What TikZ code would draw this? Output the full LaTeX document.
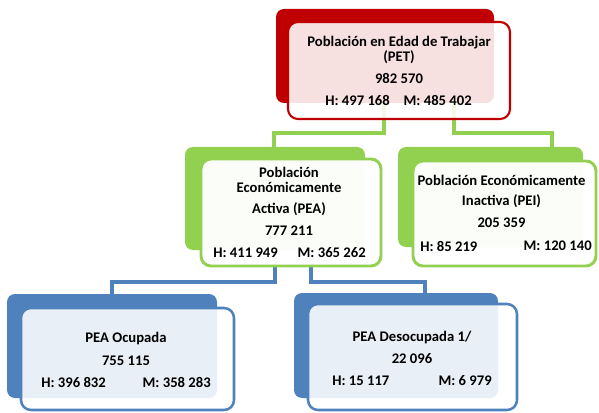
\documentclass[tikz,border=0pt]{standalone}
\usepackage{fontspec}
\setmainfont{Carlito}
\definecolor{petred}{HTML}{C00000}
\definecolor{peagreen}{HTML}{92D050}
\definecolor{peablue}{HTML}{4F81BD}
\tikzset{
  backbox/.style={fill=#1, rounded corners=6pt, inner sep=0pt},
  frontbox/.style={draw=#1, line width=1.9pt, fill=white, fill opacity=0.88, rounded corners=7.5pt, inner sep=0pt},
  lbl/.style={font=\fontsize{11}{11.25}\selectfont\bfseries, inner sep=0pt, align=center},
  conn/.style={draw=#1, line width=3pt},
}
\begin{document}
\begin{tikzpicture}[x=0.75pt,y=-0.75pt]
\useasboundingbox (0,0) rectangle (599,413);
% connectors
\coordinate (g1) at (384,103);
\coordinate (g2) at (454,103);
\coordinate (b1) at (275,250);
\coordinate (b2) at (311,250);
\draw[conn=peagreen] (g1) |- (274,133) -- (274,147);
\draw[conn=peagreen] (g2) |- (552,133) -- (552,147);
\draw[conn=peablue] (b1) |- (112,282) -- (112,294);
\draw[conn=peablue] (b2) |- (425,282) -- (425,293);
% PET
\node[backbox=petred, minimum width=163.5pt, minimum height=70.5pt] (petback) at (385,56) {};
\node[frontbox=petred, line width=1.6pt, minimum width=166.5pt, minimum height=72.75pt] (pet) at (399,70.5) {};
\node[lbl] (pettitle) at (399,49.5) {Población en Edad de Trabajar\\(PET)};
\node[lbl] (pettotal) at (399,78) {982 570};
\node[lbl, anchor=west] (peth) at (325,100) {H: 497 168};
\node[lbl, anchor=east] (petm) at (472,100) {M: 485 402};
% PEA
\node[backbox=peagreen, minimum width=135pt, minimum height=77.25pt] (peaback) at (275,198.5) {};
\node[frontbox=peagreen, line width=2.2pt, fill opacity=0.97, minimum width=135pt, minimum height=80.25pt] (pea) at (291,212.5) {};
\node[lbl] (peatitle) at (289,179.5) {Población\\Económicamente};
\node[lbl] (peasub) at (289,209) {Activa (PEA)};
\node[lbl] (peatotal) at (289,231) {777 211};
\node[lbl, anchor=west] (peah) at (213,253) {H: 411 949};
\node[lbl, anchor=east] (peam) at (366,253) {M: 365 262};
% PEI
\node[backbox=peagreen, minimum width=138.75pt, minimum height=75pt] (peiback) at (490.5,197) {};
\node[frontbox=peagreen, line width=2.2pt, fill opacity=0.97, minimum width=137.25pt, minimum height=78.75pt] (pei) at (504.5,213.5) {};
\node[lbl] (peititle) at (501.5,180) {Población Económicamente};
\node[lbl] (peisub) at (501.5,201) {Inactiva (PEI)};
\node[lbl] (peitotal) at (501.5,223) {205 359};
\node[lbl, anchor=west] (peih) at (420,246) {H: 85 219};
\node[lbl, anchor=east] (peim) at (592,246) {M: 120 140};
% PEA ocupada
\node[backbox=peablue, minimum width=157.5pt, minimum height=78pt] (ocuback) at (112,346) {};
\node[frontbox=peablue, minimum width=159.75pt, minimum height=76.5pt] (ocu) at (127.5,359) {};
\node[lbl] (ocutitle) at (126,339) {PEA Ocupada};
\node[lbl] (ocutotal) at (126,361) {755 115};
\node[lbl, anchor=west] (ocuh) at (41,382) {H: 396 832};
\node[lbl, anchor=east] (ocum) at (211,382) {M: 358 283};
% PEA desocupada
\node[backbox=peablue, minimum width=153pt, minimum height=78.75pt] (desback) at (396,345.5) {};
\node[frontbox=peablue, minimum width=156.75pt, minimum height=79.5pt] (des) at (412.5,357) {};
\node[lbl] (destitle) at (412,338) {PEA Desocupada 1/};
\node[lbl] (destotal) at (412,359) {22 096};
\node[lbl, anchor=west] (desh) at (332,381) {H: 15 117};
\node[lbl, anchor=east] (desm) at (492,381) {M: 6 979};
\end{tikzpicture}
\end{document}
